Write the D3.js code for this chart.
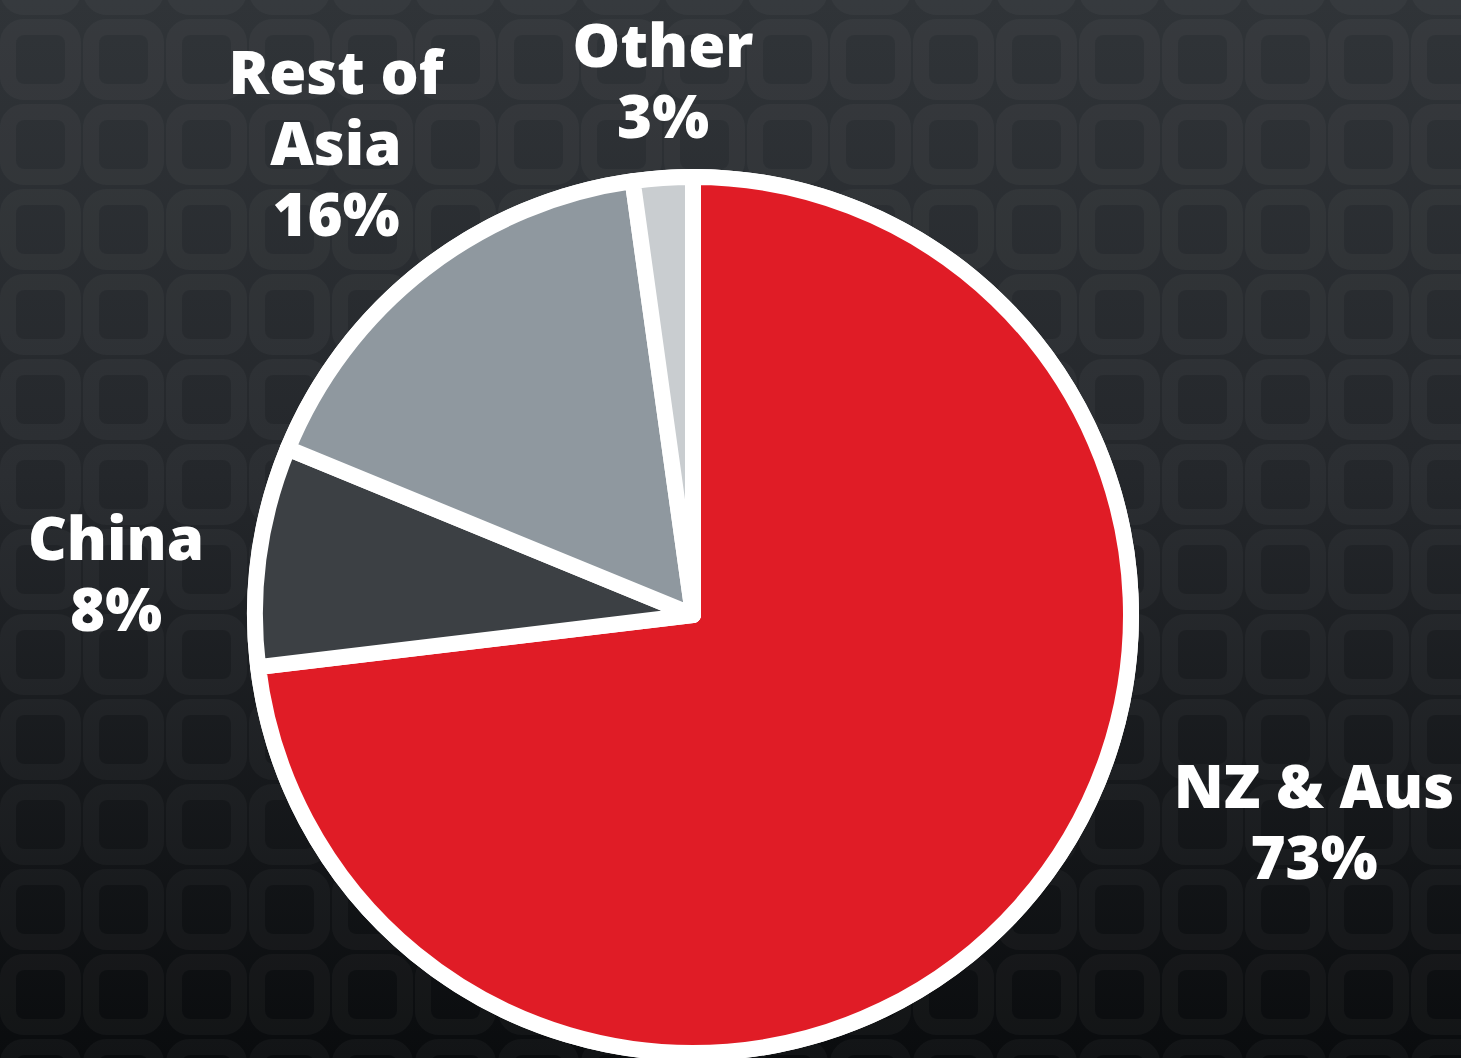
<!DOCTYPE html>
<html>
<head>
<meta charset="utf-8">
<script src="https://cdn.jsdelivr.net/npm/d3@7"></script>
<style>
  html, body { margin: 0; padding: 0; background: #1c1f22; }
  svg { display: block; }
  .lbl { font-family: "Open Sans", "Noto Sans", sans-serif; font-weight: 800; fill: #fff; }
</style>
</head>
<body>
<div id="chart"></div>
<script>
// data
const regions = ["NZ & Aus", "China", "Rest of Asia", "Other"];
const shares = [73.1, 8.1, 16.6, 2.2];
const labelLines = [["NZ & Aus", "73%"], ["China", "8%"], ["Rest of", "Asia", "16%"], ["Other", "3%"]];
const colors = ["#e01c26", "#3c4044", "#8f989f", "#c9cdd0"];

const width = 1461, height = 1058;
const cx = 693, cy = 615,
    outerR = 446,
    borderW = 16,
    lineH = 71;

// label anchor offsets from pie center (x center, first baseline)
const labelOffsets = [[621, 193], [-577, -55], [-357, -521], [-30, -548]];

const svg = d3.select("#chart")
  .append("svg")
  .attr("width", width)
  .attr("height", height);

const defs = svg.append("defs");

// background gradient
const grad = defs.append("linearGradient")
  .attr("id", "bgGrad")
  .attr("x1", "0%").attr("x2", "0%")
  .attr("y1", "0%").attr("y2", "100%");
grad.selectAll("stop")
  .data([
    {offset: "0%", color: "#303438"},
    {offset: "45%", color: "#24272b"},
    {offset: "100%", color: "#0a0c0e"}
  ])
  .enter().append("stop")
  .attr("offset", d => d.offset)
  .attr("stop-color", d => d.color);

// rounded square ring tiles
const tile = 83;
const pat = defs.append("pattern")
  .attr("id", "tiles")
  .attr("patternUnits", "userSpaceOnUse")
  .attr("x", -1).attr("y", 18)
  .attr("width", tile).attr("height", tile + 2);
pat.append("rect")
  .attr("x", 9).attr("y", 9)
  .attr("width", 65).attr("height", 65)
  .attr("rx", 16)
  .attr("fill", "none")
  .attr("stroke", "#fff")
  .attr("stroke-opacity", 0.03)
  .attr("stroke-width", 16);

svg.append("rect")
  .attr("width", width).attr("height", height)
  .attr("fill", "url(#bgGrad)");
svg.append("rect")
  .attr("width", width).attr("height", height)
  .attr("fill", "url(#tiles)");

// pie
const g = svg.append("g").attr("transform", `translate(${cx},${cy})`);

g.append("circle")
  .attr("r", outerR)
  .attr("fill", "#fff");

const pie = d3.pie().sort(null).value(d => d)(shares);
const arc = d3.arc().innerRadius(0).outerRadius(outerR - borderW / 2);

g.selectAll(".slice")
  .data(pie)
  .enter()
  .append("path")
  .attr("class", "slice")
  .attr("d", arc)
  .attr("fill", (d, i) => colors[i])
  .attr("stroke", "#fff")
  .attr("stroke-width", borderW)
  .attr("stroke-linejoin", "round");

// labels
const labels = svg.selectAll(".lbl")
  .data(regions)
  .enter()
  .append("text")
  .attr("class", "lbl")
  .attr("text-anchor", "middle")
  .attr("font-size", 60)
  .attr("x", (d, i) => cx + labelOffsets[i][0])
  .attr("y", (d, i) => cy + labelOffsets[i][1]);

labels.each(function(d, i) {
  const t = d3.select(this);
  labelLines[i].forEach((line, j) => {
    t.append("tspan")
      .attr("x", cx + labelOffsets[i][0])
      .attr("dy", j === 0 ? 0 : lineH)
      .text(line);
  });
});
</script>
</body>
</html>
